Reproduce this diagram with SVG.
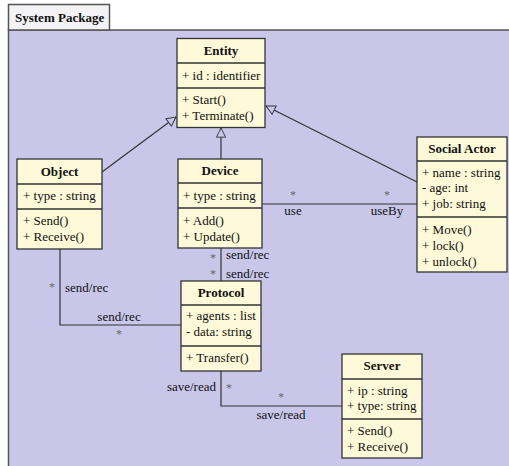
<svg xmlns="http://www.w3.org/2000/svg" width="509" height="466" viewBox="0 0 509 466" font-family="'Liberation Serif', 'DejaVu Serif', serif">
  <style>
    .pkg { fill: #c9c6ea; stroke: #555; stroke-width: 1.5; }
    .tab { fill: #f3f3f5; stroke: #555; stroke-width: 1.5; }
    .box { fill: #fdf9d9; stroke: #333; stroke-width: 1.3; }
    .sep { stroke: #333; stroke-width: 1.3; }
    text { font-family: 'Liberation Serif', 'DejaVu Serif', serif; }
    .t { font-size: 13px; fill: #111; }
    .h { font-size: 13px; font-weight: bold; fill: #111; text-anchor: middle; }
    .m { text-anchor: middle; }
    .e { text-anchor: end; }
    .star { font-size: 12px; fill: #666; text-anchor: middle; }
    .ln { fill: none; stroke: #333; stroke-width: 1.2; }
  </style>
  <defs>
    <marker id="gen" viewBox="0 0 12 12" refX="11" refY="6" markerWidth="11" markerHeight="11" markerUnits="userSpaceOnUse" orient="auto">
      <path d="M1,1 L11,6 L1,11 Z" fill="#c9c6ea" stroke="#333" stroke-width="1"/>
    </marker>
  </defs>

  <!-- package frame -->
  <g id="system-package">
    <rect class="pkg" x="8.5" y="30" width="520" height="460"/>
    <rect class="tab" x="8.5" y="4.5" width="101" height="25.5"/>
    <text class="t" x="15" y="22" font-weight="bold">System Package</text>
  </g>

  <!-- connectors -->
  <g id="connectors">
    <path class="ln" d="M102,172 L176,117" marker-end="url(#gen)"/>
    <path class="ln" d="M221,159 L221,128" marker-end="url(#gen)"/>
    <path class="ln" d="M417,182 L266,106" marker-end="url(#gen)"/>
    <path class="ln" d="M262,204 L417,204"/>
    <path class="ln" d="M221,248 L221,281"/>
    <path class="ln" d="M60,249 L60,325 L181,325"/>
    <path class="ln" d="M221,371 L221,406 L342,406"/>

    <text class="star" x="293" y="199">*</text>
    <text class="t m" x="293" y="215">use</text>
    <text class="star" x="387" y="199">*</text>
    <text class="t m" x="387" y="215">useBy</text>

    <text class="star" x="213" y="262">*</text>
    <text class="t" x="226" y="259">send/rec</text>
    <text class="star" x="213" y="278">*</text>
    <text class="t" x="226" y="278">send/rec</text>

    <text class="star" x="52" y="291">*</text>
    <text class="t" x="65" y="292">send/rec</text>
    <text class="t m" x="119" y="321">send/rec</text>
    <text class="star" x="119" y="338">*</text>

    <text class="t e" x="216" y="391">save/read</text>
    <text class="star" x="229" y="392">*</text>
    <text class="star" x="281" y="401">*</text>
    <text class="t m" x="281" y="419">save/read</text>
  </g>

  <!-- classes -->
  <g id="entity">
    <rect class="box" x="177" y="38.5" width="88" height="89"/>
    <line class="sep" x1="177" y1="63" x2="265" y2="63"/>
    <line class="sep" x1="177" y1="88" x2="265" y2="88"/>
    <text class="h" x="221" y="55">Entity</text>
    <text class="t" x="182" y="80">+ id : identifier</text>
    <text class="t" x="182" y="104">+ Start()</text>
    <text class="t" x="182" y="120">+ Terminate()</text>
  </g>

  <g id="object">
    <rect class="box" x="17" y="159" width="85" height="90"/>
    <line class="sep" x1="17" y1="184" x2="102" y2="184"/>
    <line class="sep" x1="17" y1="209" x2="102" y2="209"/>
    <text class="h" x="59.5" y="176">Object</text>
    <text class="t" x="23" y="200">+ type : string</text>
    <text class="t" x="23" y="225">+ Send()</text>
    <text class="t" x="23" y="241">+ Receive()</text>
  </g>

  <g id="device">
    <rect class="box" x="178" y="159" width="84" height="89"/>
    <line class="sep" x1="178" y1="183" x2="262" y2="183"/>
    <line class="sep" x1="178" y1="208" x2="262" y2="208"/>
    <text class="h" x="220" y="175">Device</text>
    <text class="t" x="183" y="200">+ type : string</text>
    <text class="t" x="183" y="225">+ Add()</text>
    <text class="t" x="183" y="241">+ Update()</text>
  </g>

  <g id="social-actor">
    <rect class="box" x="417" y="137" width="90" height="135"/>
    <line class="sep" x1="417" y1="161" x2="507" y2="161"/>
    <line class="sep" x1="417" y1="217" x2="507" y2="217"/>
    <text class="h" x="462" y="153">Social Actor</text>
    <text class="t" x="422" y="177">+ name : string</text>
    <text class="t" x="422" y="192">- age: int</text>
    <text class="t" x="422" y="208">+ job: string</text>
    <text class="t" x="422" y="234">+ Move()</text>
    <text class="t" x="422" y="250">+ lock()</text>
    <text class="t" x="422" y="266">+ unlock()</text>
  </g>

  <g id="protocol">
    <rect class="box" x="181" y="281" width="80" height="90"/>
    <line class="sep" x1="181" y1="305" x2="261" y2="305"/>
    <line class="sep" x1="181" y1="346" x2="261" y2="346"/>
    <text class="h" x="221" y="297">Protocol</text>
    <text class="t" x="186" y="320">+ agents : list</text>
    <text class="t" x="186" y="336">- data: string</text>
    <text class="t" x="186" y="362">+ Transfer()</text>
  </g>

  <g id="server">
    <rect class="box" x="342" y="354" width="80" height="104"/>
    <line class="sep" x1="342" y1="379" x2="422" y2="379"/>
    <line class="sep" x1="342" y1="419" x2="422" y2="419"/>
    <text class="h" x="382" y="370">Server</text>
    <text class="t" x="347" y="395">+ ip : string</text>
    <text class="t" x="347" y="410">+ type: string</text>
    <text class="t" x="347" y="435">+ Send()</text>
    <text class="t" x="347" y="451">+ Receive()</text>
  </g>
</svg>
